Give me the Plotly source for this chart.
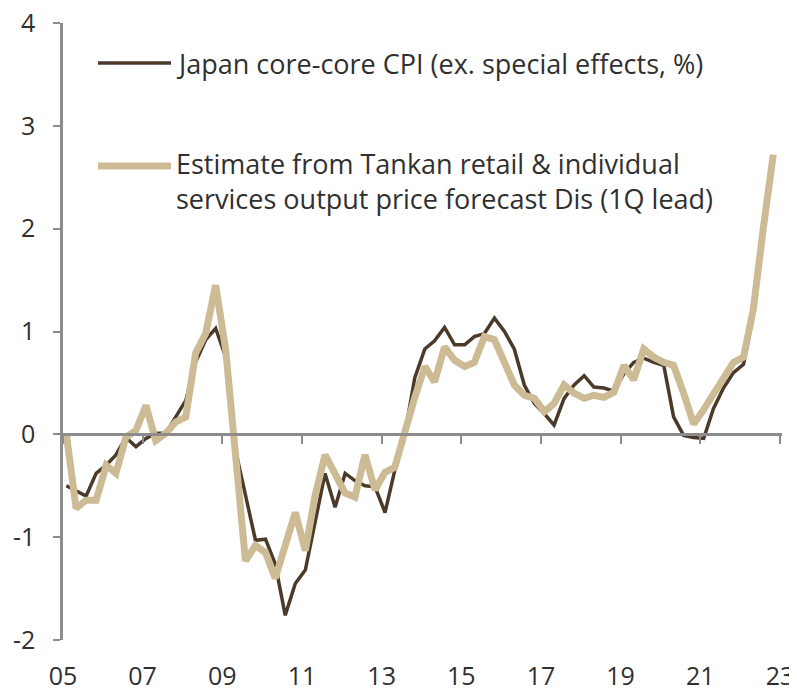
import pandas as pd
import plotly.graph_objects as go

# quarterly data, plotted at the middle month of each quarter
quarters = pd.period_range("2005Q1", "2022Q4", freq="Q")

core_core_cpi = [
    -0.50, -0.55, -0.60, -0.38,
    -0.30, -0.20, -0.03, -0.12,
    -0.04, 0.01, 0.01, 0.17,
    0.33, 0.70, 0.92, 1.03,
    0.75, -0.15, -0.60, -1.03,
    -1.02, -1.26, -1.76, -1.45,
    -1.32, -0.85, -0.38, -0.71,
    -0.38, -0.45, -0.50, -0.51,
    -0.76, -0.35, 0.00, 0.55,
    0.83, 0.91, 1.04, 0.87,
    0.87, 0.95, 0.98, 1.13,
    1.00, 0.83, 0.48, 0.30,
    0.20, 0.09, 0.35, 0.48,
    0.57, 0.46, 0.45, 0.42,
    0.59, 0.70, 0.74, 0.70,
    0.67, 0.17, -0.01, -0.03,
    -0.04, 0.25, 0.45, 0.60,
    0.68, 1.15,
]

tankan_estimate = [
    0.00, -0.72, -0.64, -0.64,
    -0.30, -0.38, -0.03, 0.04,
    0.28, -0.06, 0.01, 0.12,
    0.17, 0.79, 0.98, 1.45,
    0.82, -0.25, -1.23, -1.08,
    -1.15, -1.40, -1.08, -0.76,
    -1.13, -0.60, -0.20, -0.38,
    -0.57, -0.61, -0.20, -0.54,
    -0.37, -0.32, 0.04, 0.36,
    0.66, 0.51, 0.85, 0.72,
    0.66, 0.70, 0.95, 0.92,
    0.70, 0.48, 0.38, 0.35,
    0.22, 0.30, 0.48, 0.40,
    0.35, 0.38, 0.36, 0.41,
    0.67, 0.53, 0.83, 0.75,
    0.70, 0.67, 0.40, 0.10,
    0.24, 0.40, 0.55, 0.70,
    0.75, 1.21, 2.00, 2.72,
]

tick_years = list(range(2005, 2024, 2))
tick_labels = [f"{y % 100:02d}" for y in tick_years]
y_ticks = [-2, -1, 0, 1, 2, 3, 4]
y_labels = [str(v) for v in y_ticks]  # plain hyphen, as in the original

cpi_name = "Japan core-core CPI (ex. special effects, %)"
est_name = "Estimate from Tankan retail & individual<br>services output price forecast Dis (1Q lead)"

DARK = "#4B3A2A"
BEIGE = "#CDBB95"
AXIS = "#8C8C8C"
TEXT = "#303030"
FONT = "Open Sans"
SIZE = 27
TICK_SIZE = 25

# the page body has an 8px margin, so the figure is drawn 8px smaller and
# the plot area is placed so it lands at screen x 63..782, y 23..640
PAGE_PAD = 8
W, H = 797 - PAGE_PAD, 691 - PAGE_PAD
L, R, T, B = 63 - PAGE_PAD, 15, 23 - PAGE_PAD, 51
PW, PH = W - L - R, H - T - B


def px(x):
    # screen pixel -> paper fraction
    return (x - PAGE_PAD - L) / PW


def py(y):
    return (H - B - (y - PAGE_PAD)) / PH


dates = quarters.to_timestamp(how="start") + pd.DateOffset(months=1)
x_range = ["2005-01-01", "2023-01-20"]
tick_vals = [f"{y}-01-01" for y in tick_years]

fig = go.Figure()
fig.add_trace(go.Scatter(
    x=dates[:len(core_core_cpi)], y=core_core_cpi, mode="lines", name="Japan core-core CPI",
    line=dict(color=DARK, width=3.5), xaxis="x", showlegend=False,
))
fig.add_trace(go.Scatter(
    x=dates[:len(tankan_estimate)], y=tankan_estimate, mode="lines", name="Tankan estimate",
    line=dict(color=BEIGE, width=7), xaxis="x2", showlegend=False,
))

# legend drawn by hand so the samples and wrapping match the original
fig.add_shape(type="line", xref="paper", yref="paper", x0=px(98), x1=px(171), y0=py(63), y1=py(63),
              line=dict(color=DARK, width=3.5))
fig.add_shape(type="line", xref="paper", yref="paper", x0=px(98), x1=px(171), y0=py(166), y1=py(166),
              line=dict(color=BEIGE, width=7))
fig.add_annotation(xref="paper", yref="paper", x=px(174), y=py(64), text=cpi_name, showarrow=False,
                   xanchor="left", yanchor="middle", align="left", font=dict(size=SIZE, color=TEXT, family=FONT))
fig.add_annotation(xref="paper", yref="paper", x=px(174), y=py(181), text=est_name, showarrow=False,
                   xanchor="left", yanchor="middle", align="left", font=dict(size=SIZE, color=TEXT, family=FONT))

fig.update_layout(
    width=W, height=H,
    margin=dict(l=L, r=R, t=T, b=B),
    paper_bgcolor="white", plot_bgcolor="white",
    font=dict(family=FONT, size=SIZE, color=TEXT),
    xaxis=dict(
        type="date", range=x_range, anchor="free", position=1 / 3, automargin=False,
        showline=True, linecolor=AXIS, linewidth=2.5,
        ticks="outside", ticklen=8, tickwidth=2, tickcolor=AXIS,
        tickvals=tick_vals, showticklabels=False, showgrid=False, zeroline=False,
    ),
    xaxis2=dict(
        type="date", range=x_range, overlaying="x", anchor="y", side="bottom", automargin=False,
        tickvals=tick_vals, ticktext=tick_labels, ticks="", ticklabelstandoff=19,
        ticklabeloverflow="allow", tickfont=dict(size=TICK_SIZE),
        showline=False, showgrid=False, zeroline=False,
    ),
    yaxis=dict(
        range=[-2, 4], tickvals=y_ticks, ticktext=y_labels, automargin=False,
        showline=True, linecolor=AXIS, linewidth=2.5,
        ticks="outside", ticklen=7, tickwidth=2, tickcolor=AXIS, ticklabelstandoff=13,
        ticklabeloverflow="allow", tickfont=dict(size=TICK_SIZE),
        showgrid=False, zeroline=False,
    ),
)

fig.write_html("out.html")
